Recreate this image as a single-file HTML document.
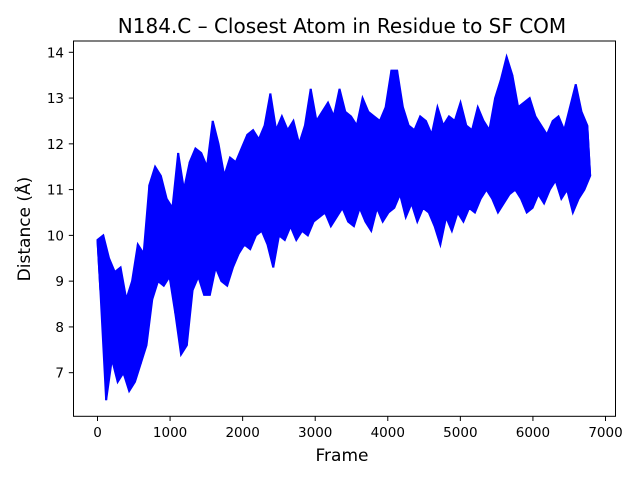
<!DOCTYPE html>
<html><head><meta charset="utf-8"><style>
html,body{margin:0;padding:0;background:#fff;width:640px;height:480px;overflow:hidden}
svg text{font-family:"DejaVu Sans","Liberation Sans",sans-serif;fill:#000}
</style></head><body>
<svg id="chart" width="640" height="480" viewBox="0 0 640 480" xmlns="http://www.w3.org/2000/svg">
<rect x="0" y="0" width="640" height="480" fill="#fff"/>
<text x="342" y="33" font-size="20" text-anchor="middle">N184.C – Closest Atom in Residue to SF COM</text>
<g id="plot"></g>
<g id="xticks"></g>
<g id="yticks"></g>
<rect x="73.5" y="41" width="542" height="375.3" fill="none" stroke="#000" stroke-width="1"/>
<text x="342" y="461" font-size="17" text-anchor="middle">Frame</text>
<text x="0" y="0" font-size="17" text-anchor="middle" transform="translate(30,229) rotate(-90)">Distance (Å)</text>
</svg>
<script>
const frameStep = 39.7;
const xTicks = [0,1000,2000,3000,4000,5000,6000,7000];
const yTicks = [7,8,9,10,11,12,13,14];
const highs = [9.9,10.0,9.5,9.2,9.3,8.6,9.0,9.8,9.6,11.1,11.5,11.3,10.8,10.6,11.8,11.0,11.6,11.9,11.8,11.5,12.5,12.0,11.3,11.7,11.6,11.9,12.2,12.3,12.1,12.4,13.1,12.3,12.6,12.3,12.5,12.0,12.4,13.2,12.5,12.7,12.9,12.6,13.2,12.7,12.6,12.4,13.0,12.7,12.6,12.5,12.8,13.6,13.6,12.8,12.4,12.3,12.6,12.5,12.2,12.8,12.4,12.6,12.5,12.9,12.4,12.3,12.8,12.5,12.3,13.0,13.4,13.9,13.5,12.8,12.9,13.0,12.6,12.4,12.2,12.5,12.6,12.3,12.8,13.3,12.7,12.4];
const lows = [8.8,6.4,7.3,6.8,7.0,6.6,6.8,7.2,7.6,8.6,9.0,8.9,9.1,8.3,7.4,7.6,8.8,9.1,8.7,8.7,9.3,9.0,8.9,9.3,9.6,9.8,9.7,10.0,10.1,9.8,9.3,10.0,9.9,10.2,9.9,10.1,10.0,10.3,10.4,10.5,10.2,10.4,10.6,10.3,10.2,10.6,10.3,10.1,10.6,10.3,10.5,10.6,10.9,10.4,10.7,10.3,10.6,10.5,10.2,9.8,10.4,10.1,10.5,10.3,10.6,10.5,10.8,11.0,10.8,10.5,10.7,10.9,11.0,10.8,10.5,10.6,10.9,10.7,11.0,11.2,10.8,11.0,10.5,10.8,11.0,11.3];

const NS = "http://www.w3.org/2000/svg";
function xScale(f){ return 97.5 + f * 0.072571; }
function yScale(v){ return 52.3 + (14 - v) * 45.77; }

const plot = document.getElementById('plot');

const upperPts = [], lowerPts = [];
for (let i = 0; i < highs.length; i++) {
  upperPts.push(xScale(i*2*frameStep).toFixed(2) + ',' + yScale(highs[i]).toFixed(2));
  lowerPts.unshift(xScale((i*2+1)*frameStep).toFixed(2) + ',' + yScale(lows[i]).toFixed(2));
}
const band = document.createElementNS(NS, 'polygon');
band.setAttribute('points', upperPts.concat(lowerPts).join(' '));
band.setAttribute('fill', '#0000ff');
band.setAttribute('stroke', '#0000ff');
band.setAttribute('stroke-width', '2');


plot.appendChild(band);

const pts = [];
for (let i = 0; i < highs.length; i++) {
  pts.push(xScale(i*2*frameStep).toFixed(2) + ',' + yScale(highs[i]).toFixed(2));
  pts.push(xScale((i*2+1)*frameStep).toFixed(2) + ',' + yScale(lows[i]).toFixed(2));
}
const line = document.createElementNS(NS, 'polyline');
line.setAttribute('points', pts.join(' '));
line.setAttribute('fill', 'none');
line.setAttribute('stroke', '#0000ff');
line.setAttribute('stroke-width', '2');


plot.appendChild(line);

const xg = document.getElementById('xticks');
xTicks.forEach(t => {
  const x = xScale(t);
  const l = document.createElementNS(NS, 'line');
  l.setAttribute('x1', x); l.setAttribute('x2', x);
  l.setAttribute('y1', 416.3); l.setAttribute('y2', 421);
  l.setAttribute('stroke', '#000');
  
  
  xg.appendChild(l);
  const tx = document.createElementNS(NS, 'text');
  tx.setAttribute('x', x); tx.setAttribute('y', 437);
  tx.setAttribute('font-size', '13.5');
  tx.setAttribute('text-anchor', 'middle');
  tx.textContent = t;
  
  
  xg.appendChild(tx);
});
const yg = document.getElementById('yticks');
yTicks.forEach(t => {
  const y = yScale(t);
  const l = document.createElementNS(NS, 'line');
  l.setAttribute('x1', 68.8); l.setAttribute('x2', 73.5);
  l.setAttribute('y1', y); l.setAttribute('y2', y);
  l.setAttribute('stroke', '#000');
  
  
  yg.appendChild(l);
  const tx = document.createElementNS(NS, 'text');
  tx.setAttribute('x', 64); tx.setAttribute('y', y + 5);
  tx.setAttribute('font-size', '13.5');
  tx.setAttribute('text-anchor', 'end');
  tx.textContent = t;
  
  
  yg.appendChild(tx);
});
</script>
</body></html>
